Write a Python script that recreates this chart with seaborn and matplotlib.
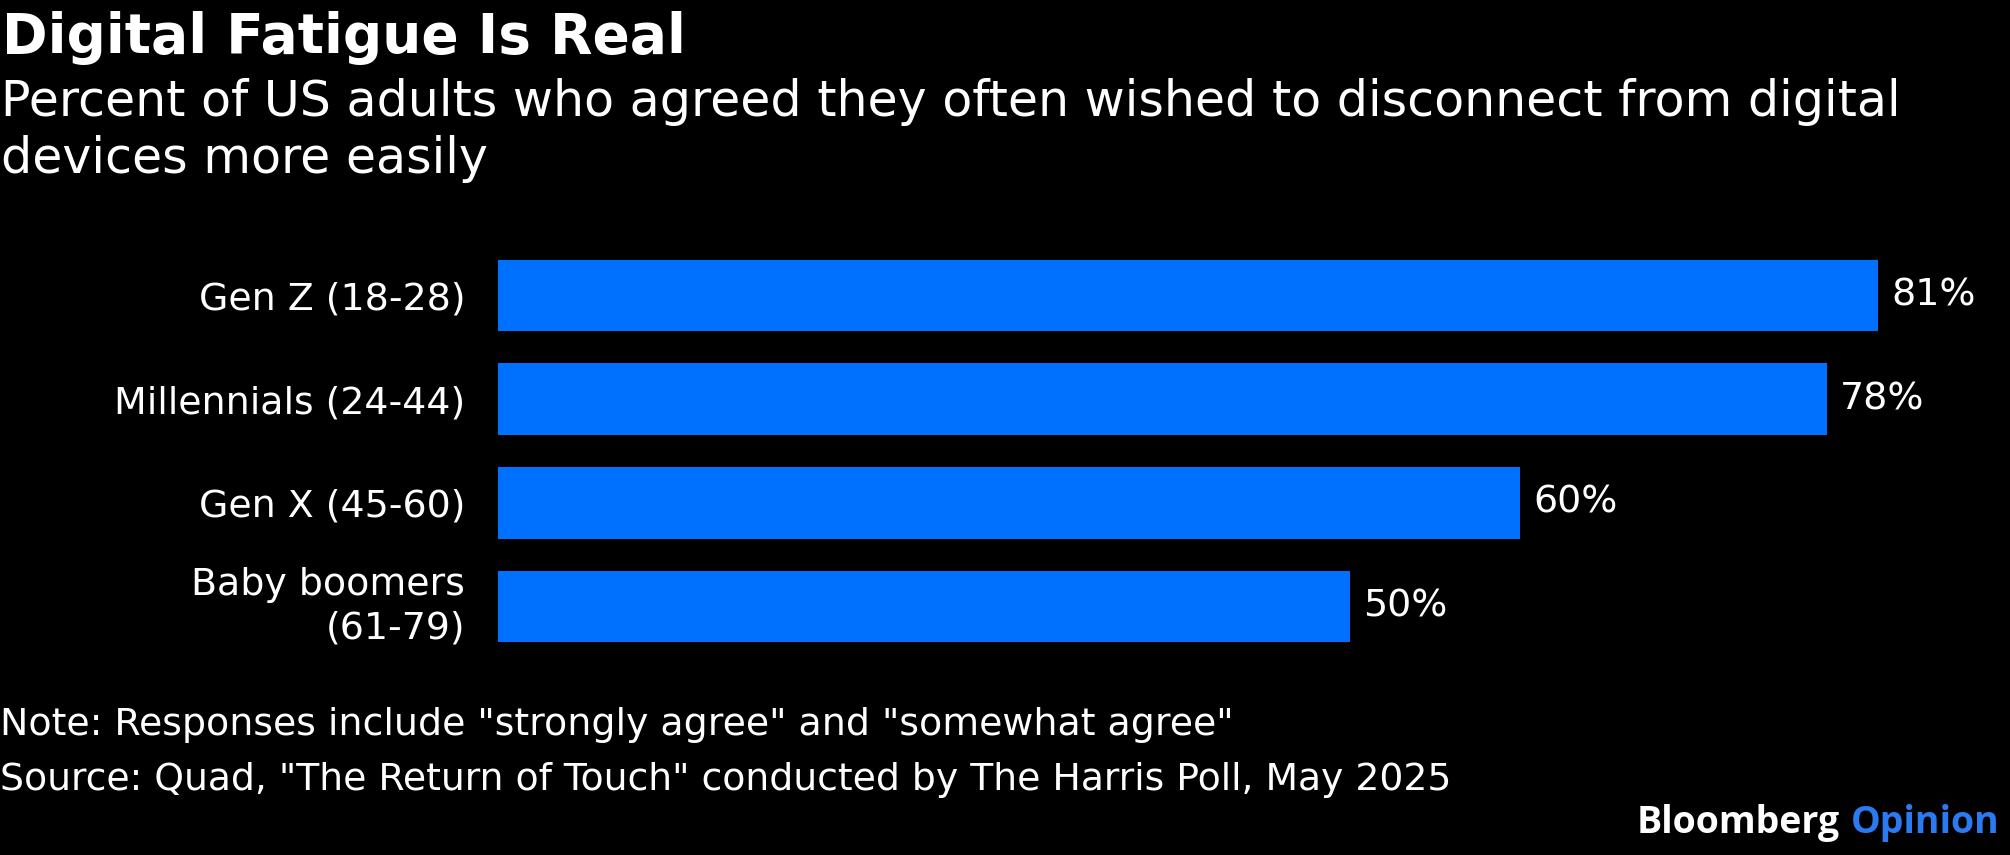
import matplotlib
matplotlib.use("Agg")
import matplotlib.pyplot as plt
import seaborn as sns
import pandas as pd

# ---------------- data ----------------
categories = ["Gen Z (18-28)", "Millennials (24-44)", "Gen X (45-60)", "Baby boomers\n(61-79)"]
values = [81, 78, 60, 50]
value_labels = ["81%", "78%", "60%", "50%"]

title = "Digital Fatigue Is Real"
subtitle_lines = [
    "Percent of US adults who agreed they often wished to disconnect from digital",
    "devices more easily",
]
note = 'Note: Responses include "strongly agree" and "somewhat agree"'
source = 'Source: Quad, "The Return of Touch" conducted by The Harris Poll, May 2025'
brand_1 = "Bloomberg"
brand_2 = "Opinion"

# ---------------- style ----------------
BG = "#000000"
BAR = "#0071ff"
FG = "#ffffff"
OPINION = "#2b7af2"

sns.set_theme(style="white")
plt.rcParams["font.family"] = ["DejaVu Sans"]
plt.rcParams["axes.facecolor"] = BG
plt.rcParams["figure.facecolor"] = BG

W, H = 2010, 855
fig = plt.figure(figsize=(W / 100, H / 100), dpi=100)

px_per_unit = 17.04
ax_left, ax_top, ax_bottom = 497.5, 243.65, 658.55
ax_width = 1500
ax = fig.add_axes([ax_left / W, 1 - ax_bottom / H, ax_width / W, (ax_bottom - ax_top) / H])
ax.set_facecolor(BG)

df = pd.DataFrame({"category": categories, "value": values})
sns.barplot(data=df, x="value", y="category", order=categories, orient="h",
            color=BAR, saturation=1, width=0.69, linewidth=0, ax=ax)

ax.set_xlim(0, ax_width / px_per_unit)
ax.set_ylim(3.5, -0.5)
for s in ax.spines.values():
    s.set_visible(False)
ax.set_xticks([])
ax.set_xlabel("")
ax.set_ylabel("")
ax.tick_params(axis="y", length=0, pad=23.3, labelsize=27.3, labelcolor=FG)
for t in ax.get_yticklabels():
    t.set_linespacing(1.25)
    t.set_multialignment("right")
    if "\n" in t.get_text():
        t.set_verticalalignment("center")

ax.bar_label(ax.containers[0], labels=value_labels, padding=9.5,
             color=FG, fontsize=27.3, clip_on=False)

# ---------------- texts ----------------
def fy(px):
    return 1 - px / H

fig.text(2 / W, fy(53.3), title, fontsize=39.6, fontweight="bold", color=FG,
         ha="left", va="baseline")
fig.text(1 / W, fy(116), subtitle_lines[0], fontsize=35.3, color=FG, ha="left", va="baseline")
fig.text(1 / W, fy(173), subtitle_lines[1], fontsize=35.3, color=FG, ha="left", va="baseline")
fig.text(0.0, fy(735), note, fontsize=27.3, color=FG, ha="left", va="baseline")
fig.text(0.0, fy(790), source, fontsize=27.2, color=FG, ha="left", va="baseline")

op = fig.text(2000 / W, fy(833.3), brand_2, fontsize=27, fontweight="bold",
              family=["Open Sans", "DejaVu Sans"], color=OPINION, ha="right", va="baseline")
fig.canvas.draw()
bb = op.get_window_extent(renderer=fig.canvas.get_renderer())
fig.text((bb.x0 - 11) / W, fy(833.3), brand_1, fontsize=27, fontweight="bold",
         family=["Open Sans", "DejaVu Sans"], color=FG, ha="right", va="baseline")

fig.savefig("out.png", dpi=100, facecolor=BG)
